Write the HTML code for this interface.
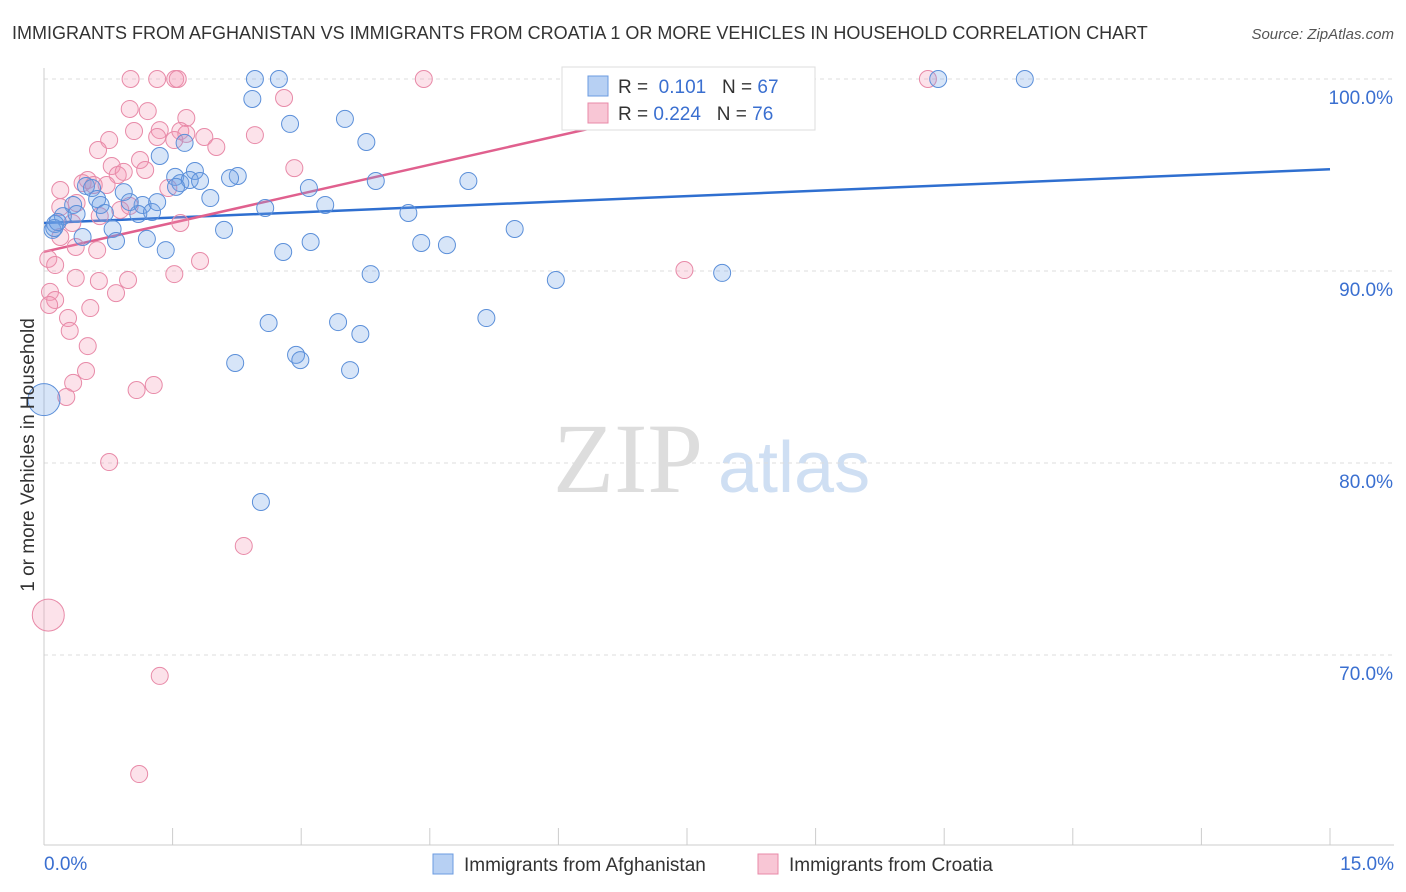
<!DOCTYPE html>
<html><head><meta charset="utf-8"><style>
body{margin:0;background:#fff;font-family:"Liberation Sans",sans-serif}
svg{display:block}
</style></head><body>
<svg width="1406" height="892" xmlns="http://www.w3.org/2000/svg">
<text x="12" y="39" font-size="18" fill="#333">IMMIGRANTS FROM AFGHANISTAN VS IMMIGRANTS FROM CROATIA 1 OR MORE VEHICLES IN HOUSEHOLD CORRELATION CHART</text>
<text x="1394" y="39" font-size="15" fill="#555" font-style="italic" text-anchor="end">Source: ZipAtlas.com</text>
<g>
<text x="553" y="492" font-family="Liberation Serif,serif" font-size="100" fill="#ddd">ZIP</text>
<text x="718" y="492" font-size="72" fill="#cfdff3">atlas</text>
</g>
<g id="grid"></g>
<g id="axes"></g>
<g id="lines"></g>
<g id="pts"></g>
<g>
<rect x="562" y="67" width="253" height="63" fill="#fff" stroke="#ddd"/>
<rect x="588" y="76" width="20" height="20" fill="#b7d0f3" stroke="#6b9be0"/>
<text x="618" y="93" font-size="19" fill="#333">R = <tspan fill="#3a6fd0">&#160;0.101</tspan>&#160;&#160;&#160;N = <tspan fill="#3a6fd0">67</tspan></text>
<rect x="588" y="103" width="20" height="20" fill="#f8c6d5" stroke="#e88aa8"/>
<text x="618" y="120" font-size="19" fill="#333">R = <tspan fill="#3a6fd0">0.224</tspan>&#160;&#160;&#160;N = <tspan fill="#3a6fd0">76</tspan></text>
</g>
<g>
<rect x="433" y="854" width="20" height="20" fill="#b7d0f3" stroke="#6b9be0"/>
<text x="464" y="871" font-size="19" fill="#333">Immigrants from Afghanistan</text>
<rect x="758" y="854" width="20" height="20" fill="#f8c6d5" stroke="#e88aa8"/>
<text x="789" y="871" font-size="19" fill="#333">Immigrants from Croatia</text>
</g>
<text transform="translate(34,455) rotate(-90)" font-size="19" fill="#333" text-anchor="middle">1 or more Vehicles in Household</text>
</svg>
<script>
const yTicks=[100,90,80,70];
const yTickLabels=["100.0%","90.0%","80.0%","70.0%"];
const xTicks=[0,1.5,3,4.5,6,7.5,9,10.5,12,13.5,15];
const blueX=[2.46,2.74,11.44,10.43,2.43,2.87,3.51,3.76,1.35,1.64,1.76,1.53,1.59,1.70,1.82,2.26,2.17,0.49,0.56,0.93,0.62,0.66,0.34,0.22,0.13,0.10,0.38,0.71,0.80,0.84,0.45,1.15,1.10,1.26,1.32,1.20,1.42,1.94,2.10,2.58,3.09,3.28,2.79,3.11,3.87,4.25,4.40,4.70,4.95,5.49,3.81,5.97,7.91,2.62,2.94,2.99,3.43,3.69,3.57,5.16,2.23,2.53,0.0,0.12,1.54,0.16,1.00];
const blueY=[100,100,100,100,98.96,97.66,97.92,96.72,95.99,96.67,95.21,94.90,94.58,94.74,94.69,94.95,94.84,94.43,94.32,94.11,93.75,93.44,93.44,92.86,92.45,92.14,92.97,93.02,92.19,91.56,91.77,93.44,92.97,93.07,93.59,91.67,91.09,93.80,92.14,93.28,94.32,93.44,90.99,91.51,94.69,93.02,91.46,91.35,94.69,92.19,89.84,89.53,89.90,87.29,85.63,85.36,87.34,86.72,84.84,87.55,85.21,77.97,83.3,92.24,94.38,92.55,93.59];
const pinkX=[1.01,1.32,1.53,1.56,4.43,10.31,1.00,1.21,1.66,1.35,1.05,1.59,1.32,0.76,0.63,1.66,1.87,2.01,2.80,2.46,2.92,1.12,0.79,0.86,0.93,1.18,0.51,0.45,0.73,1.45,0.19,0.19,0.38,0.33,0.65,0.89,1.00,1.59,0.19,0.37,0.62,1.82,0.05,0.13,0.07,0.13,0.06,0.37,0.98,0.64,0.84,0.54,0.28,0.30,0.51,0.49,0.34,0.26,1.08,1.28,0.76,2.33,0.05,1.35,1.11,7.47,1.52,0.58,1.52];
const pinkY=[100,100,100,100,100,100,98.44,98.33,97.97,97.34,97.29,97.29,96.98,96.82,96.30,97.14,96.98,96.46,99.01,97.08,95.36,95.78,95.47,95.00,95.16,95.26,94.74,94.58,94.48,94.32,94.22,93.33,93.54,92.50,92.86,93.18,93.39,92.50,91.77,91.25,91.09,90.52,90.63,90.31,88.91,88.49,88.23,89.64,89.53,89.48,88.85,88.07,87.55,86.88,86.09,84.79,84.17,83.44,83.80,84.06,80.05,75.68,72.08,68.91,63.80,90.05,89.84,94.48,96.82];
const blueLine=[[0,92.5],[15,95.3]];
const pinkLine=[[0,91.0],[8.93,100]];
const NS="http://www.w3.org/2000/svg";
const X=v=>44+v*(1286/15);
const Y=v=>79+(100-v)*19.2;
function mk(t,a,p){const e=document.createElementNS(NS,t);for(const k in a)e.setAttribute(k,a[k]);p.appendChild(e);return e;}
const grid=document.getElementById('grid'),axes=document.getElementById('axes'),lines=document.getElementById('lines'),pts=document.getElementById('pts');
yTicks.forEach((t,i)=>{
 const l=mk('line',{x1:44,x2:1394,y1:Y(t),y2:Y(t),stroke:'#ddd','stroke-dasharray':'4,4'},grid);
 
 
 const tx=mk('text',{x:1393,y:Y(t)+25,'font-size':19,fill:'#3a6fd0','text-anchor':'end'},axes);
 tx.textContent=yTickLabels[i];
 
 
});
const ax=mk('line',{x1:44,x2:1394,y1:845,y2:845,stroke:'#ccc'},axes);


const ay=mk('line',{x1:44,x2:44,y1:68,y2:845,stroke:'#ccc'},axes);


xTicks.forEach(t=>{
 const l=mk('line',{x1:X(t),x2:X(t),y1:828,y2:845,stroke:'#ccc'},axes);
 
 
});
const x0=mk('text',{x:44,y:870,'font-size':19,fill:'#3a6fd0'},axes);x0.textContent='0.0%';


const x1=mk('text',{x:1394,y:870,'font-size':19,fill:'#3a6fd0','text-anchor':'end'},axes);x1.textContent='15.0%';


function dots(xs,ys,fill,stroke,name){xs.forEach((x,i)=>{
 const big=(name==='afghanistan-point'&&x===0&&ys[i]<84)||(name==='croatia-point'&&ys[i]>71&&ys[i]<73);
 const c=mk('circle',{cx:X(x),cy:Y(ys[i]),r:big?16:8.5,fill:fill,stroke:stroke,'stroke-width':1},pts);
 
 
});}
dots(pinkX,pinkY,'rgba(244,150,180,0.28)','#e88aa8','croatia-point');
dots(blueX,blueY,'rgba(110,160,230,0.28)','#5b8fd9','afghanistan-point');
const bl=mk('line',{x1:X(blueLine[0][0]),y1:Y(blueLine[0][1]),x2:X(blueLine[1][0]),y2:Y(blueLine[1][1]),stroke:'#2f6fd0','stroke-width':2.5},lines);


const pl=mk('line',{x1:X(pinkLine[0][0]),y1:Y(pinkLine[0][1]),x2:X(pinkLine[1][0]),y2:Y(pinkLine[1][1]),stroke:'#e0608e','stroke-width':2.5},lines);


</script>
</body></html>
